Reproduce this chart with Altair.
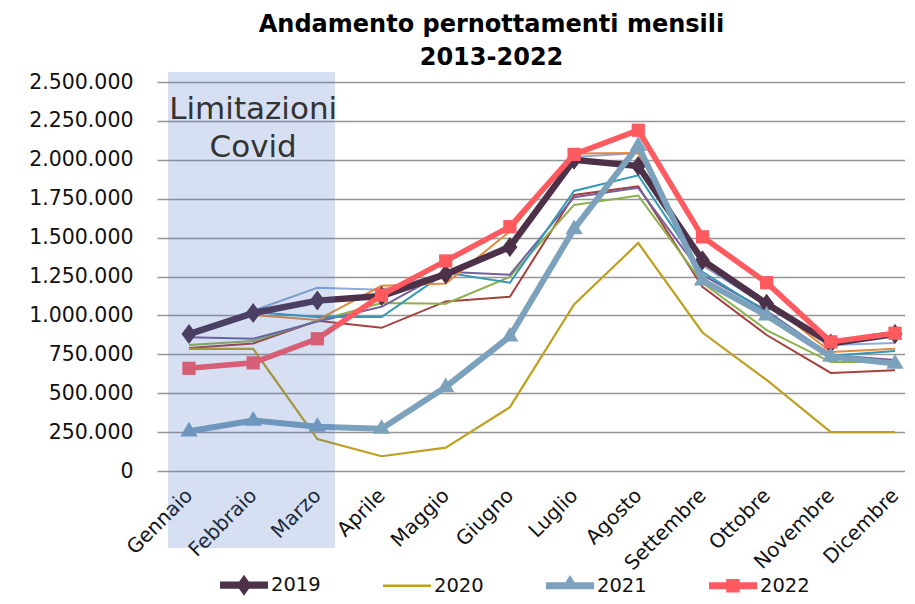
import altair as alt
import pandas as pd

mesi = ["Gennaio", "Febbraio", "Marzo", "Aprile", "Maggio", "Giugno", "Luglio",
        "Agosto", "Settembre", "Ottobre", "Novembre", "Dicembre"]

v2013 = [880000, 1030000, 1178000, 1165000, 1270000, 1460000, 2018000, 2044000, 1320000, 1060000, 810000, 822000]
v2014 = [790000, 820000, 965000, 920000, 1090000, 1120000, 1774000, 1830000, 1183000, 874000, 630000, 648000]
v2015 = [810000, 835000, 965000, 1080000, 1075000, 1247000, 1710000, 1770000, 1210000, 906000, 700000, 700000]
v2016 = [860000, 850000, 960000, 1055000, 1280000, 1262000, 1760000, 1820000, 1260000, 1030000, 745000, 713000]
v2017 = [880000, 1022000, 990000, 990000, 1275000, 1210000, 1800000, 1900000, 1280000, 1020000, 740000, 771000]
v2018 = [880000, 1003000, 970000, 1190000, 1205000, 1540000, 2040000, 2044000, 1330000, 1090000, 765000, 785000]
v2019 = [880000, 1015000, 1095000, 1125000, 1265000, 1440000, 2000000, 1960000, 1355000, 1075000, 820000, 880000]
v2020 = [785000, 785000, 205000, 95000, 150000, 410000, 1070000, 1465000, 890000, 585000, 250000, 250000]
v2021 = [255000, 325000, 285000, 272000, 540000, 865000, 1555000, 2090000, 1225000, 1000000, 735000, 690000]
v2022 = [660000, 695000, 850000, 1130000, 1350000, 1570000, 2035000, 2190000, 1505000, 1210000, 830000, 885000]

anni = ["2013", "2014", "2015", "2016", "2017", "2018", "2019", "2020", "2021", "2022"]
serie = [v2013, v2014, v2015, v2016, v2017, v2018, v2019, v2020, v2021, v2022]
colori = ["#8EA9DB", "#A5403D", "#8DB04A", "#7460A0", "#3399B5", "#E6883A",
          "#4D3149", "#BF9F1F", "#7BA1BC", "#FF5A5F"]

# annotation: Covid shaded area (month index units / data units) and its label
covid_x = [-0.327, 2.275]
covid_y = [-495000, 2564000]
covid_text = ["Limitazioni", "Covid"]
covid_text_y = [2320000, 2076000]

rows = []
for anno, vals in zip(anni, serie):
    for i, v in enumerate(vals):
        rows.append({"anno": anno, "m": i, "mese": mesi[i], "valore": v})
df = pd.DataFrame(rows)

FONT = "DejaVu Sans"
color_of = dict(zip(anni, colori))

xscale = alt.Scale(domain=[-0.327, 11.156], nice=False, zero=False)
yscale = alt.Scale(domain=[0, 2500000], nice=False)

mesi_js = "[" + ",".join("'" + m + "'" for m in mesi) + "]"
xaxis = alt.Axis(values=list(range(12)), labelExpr=mesi_js + "[datum.value]",
                 labelAngle=-45, labelAlign="right", labelBaseline="middle",
                 labelPadding=21, grid=False, ticks=False, domain=False,
                 labelFontSize=20, labelFont=FONT, labelColor="#111",
                 labelFlush=False, labelOverlap=False, title=None)
yaxis = alt.Axis(values=list(range(0, 2500001, 250000)),
                 labelExpr="replace(format(datum.value, ','), regexp(',', 'g'), '.')",
                 grid=True, gridColor="#959595", gridWidth=1.5, domain=False,
                 tickColor="#959595", tickSize=11, tickWidth=1.5, labelPadding=24,
                 labelFontSize=20.5, labelFont=FONT, labelColor="#111", title=None)

base = alt.Chart(df)
X = alt.X("m:Q", scale=xscale, axis=xaxis)
Y = alt.Y("valore:Q", scale=yscale, axis=yaxis)

layers = []
thin_years = anni[:6]
layers.append(
    base.transform_filter(alt.FieldOneOfPredicate(field="anno", oneOf=thin_years))
    .mark_line(strokeWidth=2)
    .encode(x=X, y=Y,
            stroke=alt.Stroke("anno:N", scale=alt.Scale(domain=thin_years, range=colori[:6]), legend=None))
)

marker = {
    "2019": ("M0,-1L0.75,0L0,1L-0.75,0Z", 400),
    "2021": ("M0,-1.1L1,0.6L-1,0.6Z", 300),
    "2022": ("square", 175),
}
widths = {"2019": 6.5, "2020": 2.2, "2021": 6, "2022": 5.5}
for anno in ["2019", "2020", "2021", "2022"]:
    sub = base.transform_filter(alt.datum.anno == anno)
    layers.append(sub.mark_line(strokeWidth=widths[anno], color=color_of[anno]).encode(x=X, y=Y))
    if anno in marker:
        shp, sz = marker[anno]
        layers.append(sub.mark_point(shape=shp, size=sz, filled=True, opacity=1,
                                     color=color_of[anno]).encode(x=X, y=Y))

# legend (built from scales only)
leg_years = ["2019", "2020", "2021", "2022"]
leg_cols = [color_of[a] for a in leg_years]
leg_paths = [
    "M-1,-0.15H1V0.15H-1ZM0,-0.44L0.31,0L0,0.44L-0.31,0Z",
    "M-1,-0.05H1V0.05H-1Z",
    "M-1,-0.15H1V0.15H-1ZM0,-0.45L0.36,0.12L-0.36,0.12Z",
    "M-1,-0.15H1V0.15H-1ZM-0.28,-0.28H0.28V0.28H-0.28Z",
]
legend = alt.Legend(orient="none", legendX=52, legendY=479, direction="horizontal",
                    columns=4, columnPadding=62, symbolSize=2304, symbolStrokeWidth=0,
                    symbolOpacity=1, labelFontSize=19.5, labelFont=FONT, labelColor="#111",
                    labelOffset=3, title=None, padding=0)
layers.append(
    base.transform_filter("false").mark_point(filled=True, opacity=1)
    .encode(x=X, y=Y,
            fill=alt.Fill("anno:N", scale=alt.Scale(domain=leg_years, range=leg_cols), legend=legend),
            shape=alt.Shape("anno:N", scale=alt.Scale(domain=leg_years, range=leg_paths), legend=legend))
)

# shaded Covid area on top of lines
shade_df = pd.DataFrame({"x0": [covid_x[0]], "x1": [covid_x[1]], "y0": [covid_y[0]], "y1": [covid_y[1]]})
layers.append(
    alt.Chart(shade_df).mark_rect(color="#4472C4", opacity=0.22)
    .encode(x=alt.X("x0:Q", scale=xscale, axis=xaxis), x2="x1:Q",
            y=alt.Y("y0:Q", scale=yscale, axis=yaxis), y2="y1:Q")
)
text_df = pd.DataFrame({"t": covid_text, "m": [1, 1], "valore": covid_text_y})
layers.append(
    alt.Chart(text_df).mark_text(fontSize=31, font=FONT, color="#333333", baseline="middle")
    .encode(x=X, y=Y, text="t:N")
)

chart = alt.layer(*layers).properties(
    width=737, height=389,
    title=alt.Title(["Andamento pernottamenti mensili", "2013-2022"], fontSize=24, font=FONT,
                    fontWeight="bold", color="black", dx=-45, offset=2, lineHeight=33),
    autosize=alt.AutoSizeParams(type="none"),
    padding={"left": 160, "top": 74, "right": 0, "bottom": 125},
    background="white",
).configure_view(stroke=None)

chart.save("out.html", embed_options={"renderer": "svg", "actions": False})
